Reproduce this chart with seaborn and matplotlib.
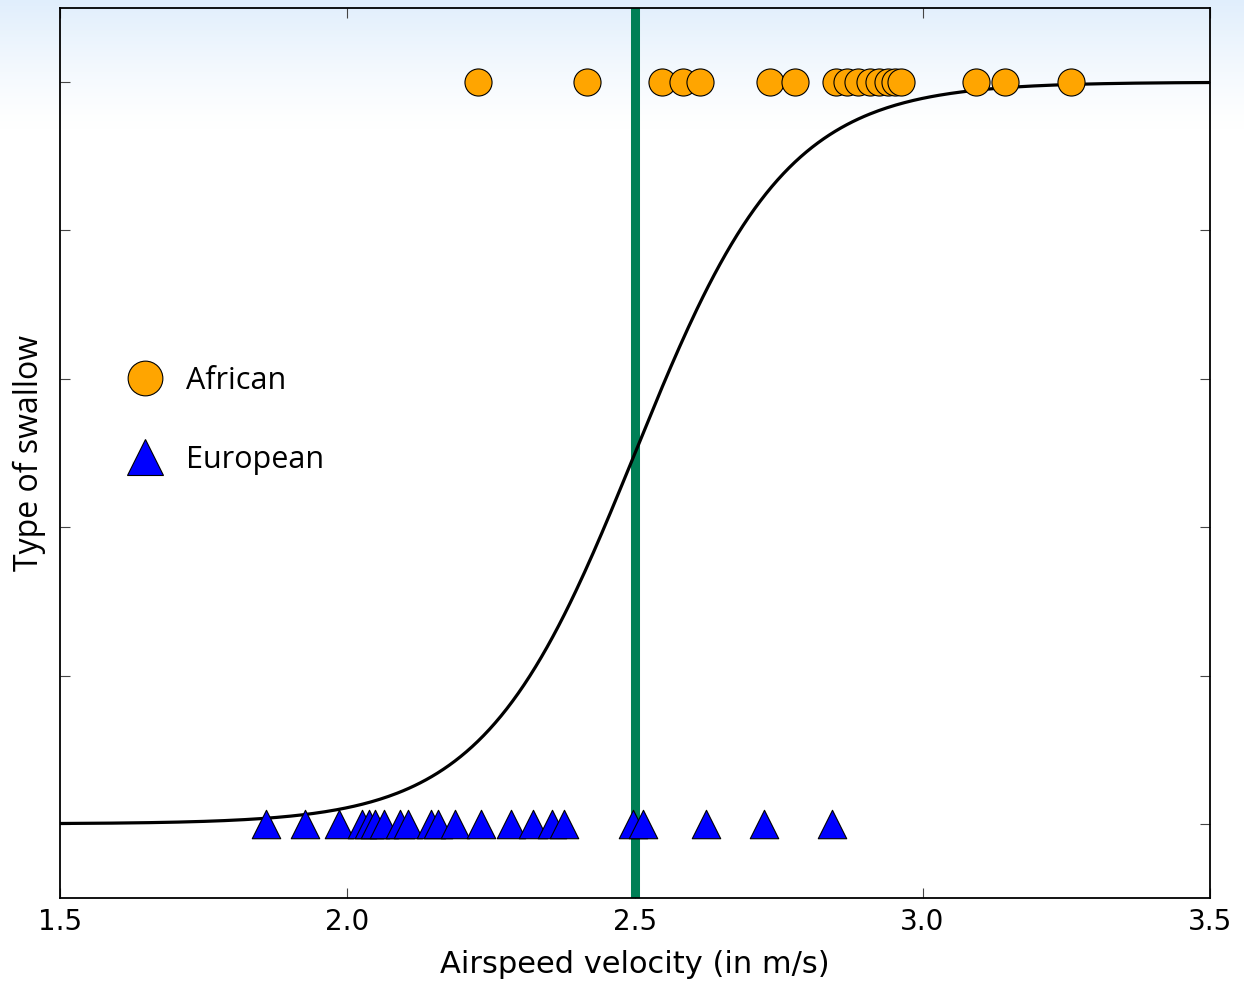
import numpy as np
import pandas as pd
import seaborn as sns
import matplotlib.pyplot as plt
from matplotlib.lines import Line2D

# airspeed readings (m/s)
african_speed = [2.227, 2.417, 2.547, 2.583, 2.613, 2.735, 2.778, 2.850, 2.868,
                 2.888, 2.908, 2.925, 2.940, 2.952, 2.962, 3.093, 3.143, 3.258]
european_speed = [1.859, 1.926, 1.985, 2.025, 2.037, 2.048, 2.063, 2.091, 2.105,
                  2.145, 2.157, 2.187, 2.232, 2.284, 2.323, 2.356, 2.377, 2.496,
                  2.514, 2.623, 2.724, 2.843]
# logistic fit parameters and decision boundary
midpoint = 2.5
slope = 7.6
boundary = 2.5

x_ticks = [1.5, 2.0, 2.5, 3.0, 3.5]
y_ticks = [0.0, 0.2, 0.4, 0.6, 0.8, 1.0]

df = pd.concat([
    pd.DataFrame({'speed': african_speed, 'kind': 1.0, 'type': 'African'}),
    pd.DataFrame({'speed': european_speed, 'kind': 0.0, 'type': 'European'}),
])
curve_x = np.linspace(1.5, 3.5, 400)
curve = pd.DataFrame({'x': curve_x, 'p': 1 / (1 + np.exp(-slope * (curve_x - midpoint)))})

sns.set_style('white')
plt.rcParams['font.family'] = ['DejaVu Sans']
plt.rcParams['xtick.direction'] = 'in'
plt.rcParams['ytick.direction'] = 'in'
plt.rcParams['text.color'] = 'black'
plt.rcParams['axes.labelcolor'] = 'black'
plt.rcParams['xtick.color'] = 'black'
plt.rcParams['ytick.color'] = 'black'

fig = plt.figure(figsize=(12.44, 9.85), dpi=100)

# light blue band at the top of the slide
bg = fig.add_axes([0, 0, 1, 1], zorder=-1)
grad = np.ones((985, 1, 4))
grad[:, 0, 0] = 0.88
grad[:, 0, 1] = 0.935
grad[:, 0, 2] = 0.99
alpha = np.clip(1 - np.arange(985) / 130.0, 0, 1) ** 1.3
grad[:, 0, 3] = alpha
bg.imshow(grad, aspect='auto', extent=[0, 1, 0, 1])
bg.axis('off')

ax = fig.add_axes([0.0482, 0.0883, 0.9245, 0.9036])
ax.set_facecolor('none')

ax.axvline(boundary, color='#007f56', lw=6.5, zorder=1)
sns.lineplot(data=curve, x='x', y='p', color='black', lw=2.3, ax=ax, zorder=2)
sns.scatterplot(data=df[df['type'] == 'African'], x='speed', y='kind', marker='o',
                color='orange', s=380, edgecolor='black', linewidth=0.8, ax=ax, zorder=3)
sns.scatterplot(data=df[df['type'] == 'European'], x='speed', y='kind', marker='^',
                color='blue', s=420, edgecolor='black', linewidth=0.8, ax=ax, zorder=3)

ax.set_xlim(1.5, 3.5)
ax.set_ylim(-0.1, 1.1)
ax.set_xticks(x_ticks)
ax.set_xticklabels([f'{t:.1f}' for t in x_ticks])
ax.set_yticks(y_ticks)
ax.set_yticklabels([])
ax.tick_params(axis='both', which='both', top=True, right=True, left=True,
               bottom=True, length=7, width=0.8, labelsize=20, color='#444444', pad=7)
for sp in ax.spines.values():
    sp.set_color('black')
    sp.set_linewidth(1.3)

ax.set_xlabel('Airspeed velocity (in m/s)', fontsize=22, labelpad=10)
ax.set_ylabel('Type of swallow', fontsize=23, family=['Open Sans', 'DejaVu Sans'])
ax.yaxis.set_label_coords(-0.012, 0.5)

handles = [
    Line2D([], [], ls='none', marker='o', ms=25, mfc='orange', mec='black', mew=0.8),
    Line2D([], [], ls='none', marker='^', ms=26, mfc='blue', mec='black', mew=0.8),
]
ax.legend(handles, ['African', 'European'], loc='center left',
          bbox_to_anchor=(0.034, 0.537), frameon=False,
          prop={'family': ['Open Sans', 'DejaVu Sans'], 'size': 22},
          labelspacing=1.6, handletextpad=0.75, handlelength=1.2)

fig.savefig('out.png', dpi=100)
